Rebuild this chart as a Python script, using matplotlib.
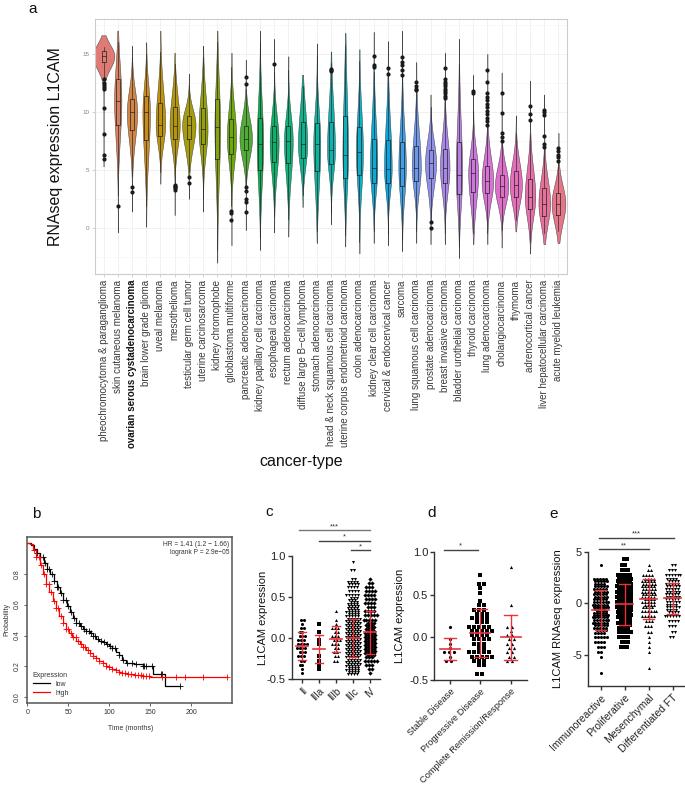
import numpy as np
import matplotlib
matplotlib.use('Agg')
import matplotlib.pyplot as plt

plt.rcParams['font.family'] = ['Liberation Sans', 'DejaVu Sans']
plt.rcParams['axes.unicode_minus'] = False

# ---------------- panel a data ----------------
cancer_types = [
    "pheochromocytoma & paraganglioma", "skin cutaneous melanoma",
    "ovarian serous cystadenocarcinoma", "brain lower grade glioma", "uveal melanoma",
    "mesothelioma", "testicular germ cell tumor", "uterine carcinosarcoma",
    "kidney chromophobe", "glioblastoma multiforme", "pancreatic adenocarcinoma",
    "kidney papillary cell carcinoma", "esophageal carcinoma", "rectum adenocarcinoma",
    "diffuse large B\u2212cell lymphoma", "stomach adenocarcinoma",
    "head & neck squamous cell carcinoma", "uterine corpus endometrioid carcinoma",
    "colon adenocarcinoma", "kidney clear cell carcinoma", "cervical & endocervical cancer",
    "sarcoma", "lung squamous cell carcinoma", "prostate adenocarcinoma",
    "breast invasive carcinoma", "bladder urothelial carcinoma", "thyroid carcinoma",
    "lung adenocarcinoma", "cholangiocarcinoma", "thymoma", "adrenocortical cancer",
    "liver hepatocellular carcinoma", "acute myeloid leukemia"]
violin_top = [16.6, 17.0, 15.7, 16.0, 17.0, 15.1, 13.3, 15.7, 17.0, 15.1, 14.5, 17.0, 16.3,
              14.8, 13.2, 15.9, 15.2, 16.8, 15.4, 16.9, 16.1, 17.0, 14.3, 11.5, 15.1, 16.3,
              13.2, 15.0, 13.4, 9.7, 12.7, 11.5, 8.2]
violin_bottom = [5.3, -0.4, 1.4, 0.1, 3.8, 1.1, 2.5, 1.4, -3.0, -1.5, -0.2, -1.9, -0.4, -0.75,
                 1.8, -1.3, 0.3, -1.6, -2.2, -1.3, -1.5, -2.0, -1.3, -1.4, -1.4, -2.6, -1.4,
                 -1.4, -1.7, -0.3, -2.2, -1.4, -1.3]
q1 = [14.3, 8.85, 8.45, 7.6, 7.9, 7.7, 7.7, 7.2, 5.9, 6.4, 6.7, 5.0, 5.7, 5.6, 6.0, 4.9, 5.5,
      4.3, 4.6, 3.85, 3.9, 3.6, 4.0, 4.3, 3.9, 2.9, 3.1, 3.0, 2.7, 2.7, 1.6, 1.06, 1.1]
median = [14.8, 10.95, 9.97, 9.97, 8.9, 8.8, 8.9, 8.5, 8.7, 7.8, 7.7, 7.2, 7.4, 7.5, 7.2, 7.2,
          6.7, 6.3, 6.5, 5.2, 5.1, 5.2, 5.2, 5.6, 5.2, 4.6, 4.7, 4.0, 3.6, 3.7, 2.7, 2.1, 2.1]
q3 = [15.2, 12.85, 11.1, 11.4, 10.8, 10.4, 9.6, 10.3, 11.1, 9.4, 8.8, 9.5, 8.8, 8.8, 9.1, 9.0,
      9.1, 9.6, 8.7, 7.7, 7.6, 7.4, 7.1, 6.75, 6.8, 7.4, 5.9, 5.3, 4.6, 4.9, 4.2, 3.4, 3.0]
outliers = [
    [12.8, 12.5, 12.3, 12.1, 12.0, 10.3, 8.1, 6.3, 5.9], [1.9], [3.56, 3.13], [], [],
    [3.7, 3.6, 3.5, 3.4, 3.3], [4.37, 3.85], [], [], [1.5, 1.3, 0.7],
    [13.0, 12.4, 3.5, 3.2, 2.5, 2.2, 1.4], [], [14.1], [], [], [], [13.7, 13.6, 13.5], [], [],
    [14.8, 14.0, 13.85], [13.8, 13.3], [14.7, 14.3, 14.0, 13.6, 13.2], [12.6, 12.2, 12.0, 11.9],
    [0.55, 0.0], [13.8, 12.8, 12.6, 12.4, 12.2, 12.0, 11.8, 11.6, 11.4, 11.2], [],
    [11.8, 11.6], [13.6, 12.6, 11.6, 11.3, 11.0, 10.7, 10.4, 10.1, 9.8, 9.5, 9.2, 8.9],
    [11.6, 9.9, 8.2, 7.8, 7.5], [], [10.5, 9.8, 9.3], [10.2, 10.0, 9.7, 7.9, 7.2, 7.0],
    [6.9, 6.6, 6.3, 6.1, 5.8]]

# ---------------- panel b data ----------------
low_time = [0, 4, 8, 12, 16, 20, 24, 28, 32, 36, 40, 44, 48, 52, 56, 60, 64, 68, 72, 76, 80, 84,
            88, 92, 96, 100, 104, 108, 112, 116, 120, 130, 141, 154, 168, 186]
low_surv = [1.0, 0.985, 0.96, 0.935, 0.91, 0.87, 0.83, 0.795, 0.755, 0.715, 0.675, 0.63, 0.59,
            0.55, 0.515, 0.48, 0.46, 0.44, 0.43, 0.415, 0.40, 0.375, 0.365, 0.356, 0.348, 0.335,
            0.32, 0.295, 0.275, 0.245, 0.225, 0.215, 0.205, 0.15, 0.073, 0.073]
high_time = [0, 3, 7, 11, 15, 19, 23, 27, 31, 35, 39, 43, 47, 51, 55, 60, 64, 68, 72, 76, 80, 84,
             88, 92, 96, 100, 104, 108, 112, 116, 122, 130, 140, 150, 160, 244]
high_surv = [1.0, 0.99, 0.955, 0.905, 0.855, 0.795, 0.735, 0.68, 0.625, 0.575, 0.525, 0.48, 0.445,
             0.415, 0.39, 0.362, 0.344, 0.326, 0.307, 0.287, 0.27, 0.254, 0.238, 0.222, 0.205,
             0.196, 0.185, 0.177, 0.165, 0.155, 0.15, 0.145, 0.14, 0.135, 0.13, 0.13]
low_censor = [12, 16, 19, 22, 24, 27, 30, 33, 36, 38, 41, 44, 47, 50, 53, 57, 60, 63, 66, 69, 72,
              75, 78, 80, 83, 86, 90, 94, 97, 101, 104, 107, 112, 117, 122, 128, 133, 141, 143,
              145, 152, 163, 165, 186]
high_censor = [8, 11, 14, 17, 20, 23, 26, 29, 32, 35, 38, 41, 44, 47, 50, 53, 56, 59, 62, 65, 68,
               71, 74, 77, 80, 84, 88, 92, 96, 100, 104, 108, 112, 116, 119, 123, 127, 131, 135,
               139, 141, 145, 149, 165, 182, 192, 214, 244]

# ---------------- panel c data (counts per 0.05 bin from -0.45) ----------------
c_groups = ["II", "IIIa", "IIIb", "IIIc", "IV"]
c_counts = [
    [1, 1, 2, 2, 3, 3, 4, 4, 3, 3, 2, 2, 1, 2],
    [0, 1, 1, 1, 1, 0, 0, 1, 1, 0, 1, 0, 1],
    [0, 0, 0, 2, 2, 2, 2, 3, 3, 3, 2, 3, 1, 1, 0, 1],
    [8, 9, 10, 10, 10, 10, 10, 10, 10, 10, 10, 10, 10, 10, 9, 9, 8, 7, 6, 5, 4, 4, 8, 2, 0, 2, 0, 1],
    [1, 2, 3, 5, 6, 8, 8, 8, 8, 8, 7, 6, 6, 5, 5, 4, 3, 4, 4, 4, 4, 3, 2, 1]]
c_mean = [-0.10, -0.134, -0.016, 0.004, 0.07]
c_sd = [0.17, 0.175, 0.16, 0.23, 0.26]

# ---------------- panel d data ----------------
d_groups = ["Stable Disease", "Progressive Disease", "Complete Remission/Response"]
d_counts = [
    [0, 0, 0, 2, 1, 3, 1, 1, 1, 0, 0, 1],
    [2, 0, 2, 3, 5, 5, 2, 3, 4, 4, 5, 5, 3, 4, 3, 3, 2, 1, 0, 1, 1, 2, 0, 1],
    [0, 0, 0, 2, 2, 2, 2, 2, 2, 2, 1, 2, 0, 0, 0, 0, 1, 0, 0, 0, 0, 0, 0, 0, 0, 1]]
d_mean = [-0.14, 0.05, 0.0]
d_sd = [0.128, 0.28, 0.265]

# ---------------- panel e data (counts per 0.5 bin from -7) ----------------
e_groups = ["Immunoreactive", "Proliferative", "Mesenchymal", "Differentiated FT"]
e_counts = [
    [1, 0, 0, 1, 2, 3, 4, 5, 8, 10, 12, 12, 13, 12, 11, 10, 10, 9, 10, 0, 0, 1],
    [0, 0, 0, 0, 0, 3, 3, 4, 5, 8, 9, 10, 10, 11, 11, 11, 11, 11, 10, 5, 3, 2, 2],
    [0, 1, 0, 0, 1, 1, 1, 1, 2, 3, 3, 5, 6, 8, 9, 10, 10, 10, 9, 4, 2, 1],
    [0, 0, 0, 0, 0, 0, 0, 2, 2, 3, 4, 6, 8, 9, 10, 10, 10, 10, 8, 6, 3, 2]]
e_mean = [-0.65, -0.1, 0.45, 0.48]
e_sd = [1.95, 1.97, 1.95, 1.52]

# ---------------- helpers ----------------
W, H = 685, 785


def rect(x0, y0, x1, y1):
    return [x0 / W, 1 - y1 / H, (x1 - x0) / W, (y1 - y0) / H]


def hcl(h, c=100.0, l=65.0):
    hr = np.deg2rad(h)
    u, v = c * np.cos(hr), c * np.sin(hr)
    Xn, Yn, Zn = 95.047, 100.0, 108.883
    den = Xn + 15 * Yn + 3 * Zn
    un, vn = 4 * Xn / den, 9 * Yn / den
    Y = Yn * ((l + 16) / 116) ** 3
    up, vp = u / (13 * l) + un, v / (13 * l) + vn
    X = Y * 9 * up / (4 * vp)
    Z = Y * (12 - 3 * up - 20 * vp) / (4 * vp)
    X, Y, Z = X / 100, Y / 100, Z / 100
    r = 3.240479 * X - 1.537150 * Y - 0.498535 * Z
    g = -0.969256 * X + 1.875992 * Y + 0.041556 * Z
    b = 0.055648 * X - 0.204043 * Y + 1.057311 * Z

    def gam(t):
        t = min(max(t, 0.0), 1.0)
        return 1.055 * t ** (1 / 2.4) - 0.055 if t > 0.0031308 else 12.92 * t
    return (gam(r), gam(g), gam(b))


fig = plt.figure(figsize=(W / 100, H / 100), dpi=100)
fig.patch.set_facecolor('white')

# ================= panel a =================
axa = fig.add_axes(rect(95, 19, 567, 274))
n = len(cancer_types)
hues = np.linspace(15, 375, n + 1)[:n]
colors = [hcl(h, c=80, l=61) for h in hues]

profiles = []
for i in range(n):
    y = np.linspace(violin_bottom[i], violin_top[i], 400)
    s1 = np.hypot((median[i] - q1[i]) / 0.674, 0.8)
    s2 = np.hypot((q3[i] - median[i]) / 0.674, 0.8)
    f = np.where(y < median[i], np.exp(-0.5 * ((y - median[i]) / s1) ** 2),
                 np.exp(-0.5 * ((y - median[i]) / s2) ** 2))
    f = f / np.trapezoid(f, y)
    profiles.append((y, f))
scale = 0.76 / max(p[1].max() for p in profiles)

for i in range(n):
    x = i + 1
    y, f = profiles[i]
    w = f * scale
    axa.fill_betweenx(y, x - w, x + w, facecolor=colors[i], edgecolor='#3a3a3a',
                      linewidth=0.35, alpha=0.95, zorder=2)
    iqr = q3[i] - q1[i]
    whi = min(q3[i] + 1.5 * iqr, violin_top[i] - 1.0)
    wlo = max(q1[i] - 1.5 * iqr, violin_bottom[i] + 1.0)
    bw = 0.14
    axa.plot([x - bw, x + bw, x + bw, x - bw, x - bw], [q1[i], q1[i], q3[i], q3[i], q1[i]],
             color='#222222', lw=0.5, zorder=3)
    axa.plot([x - bw, x + bw], [median[i], median[i]], color='#222222', lw=0.5, zorder=3)
    axa.plot([x, x], [q3[i], whi], color='#222222', lw=0.45, zorder=3)
    axa.plot([x, x], [wlo, q1[i]], color='#222222', lw=0.45, zorder=3)
    if outliers[i]:
        axa.plot([x] * len(outliers[i]), outliers[i], ls='none', marker='o', ms=2.0,
                 color='#1a1a1a', zorder=4)

axa.set_xlim(0.4, n + 0.6)
axa.set_ylim(-3.97, 18.0)
axa.set_yticks([0, 5, 10, 15])
axa.set_yticks([-2.5, 2.5, 7.5, 12.5, 17.5], minor=True)
axa.set_xticks(np.arange(1, n + 1))
axa.set_xticklabels(cancer_types, rotation=90, ha='center', va='top', fontsize=7,
                    color='#3a3a3a')
for lab in axa.get_xticklabels():
    if lab.get_text().startswith('ovarian'):
        lab.set_fontweight('bold')
        lab.set_color('#111111')
axa.tick_params(axis='y', labelsize=4.5, labelcolor='#808080', length=2, width=0.4,
                color='#b0b0b0', pad=2)
axa.tick_params(axis='y', which='minor', length=0)
axa.tick_params(axis='x', length=2, width=0.4, color='#b0b0b0', pad=2)
axa.grid(True, which='major', color='#ececec', lw=0.5, zorder=0)
axa.grid(True, which='minor', axis='y', color='#f4f4f4', lw=0.4, zorder=0)
axa.set_axisbelow(True)
for sp in axa.spines.values():
    sp.set_color('#cccccc')
    sp.set_linewidth(0.8)
axa.set_ylabel('RNAseq expression L1CAM', fontsize=11.5, color='#111111')
axa.yaxis.set_label_coords((63.3 - 95) / 472, 0.5)
axa.text((301 - 95) / 472, -(461.7 - 274) / 255, 'cancer-type', transform=axa.transAxes,
         ha='center', va='center', fontsize=11.5, color='#111111')

# ================= panel b =================
axb = fig.add_axes(rect(27.3, 537, 232, 703))


def step_value(times, surv, t):
    idx = np.searchsorted(times, t, side='right') - 1
    return np.asarray(surv)[idx]


for times, surv, cens, col, lab in [(low_time, low_surv, low_censor, 'black', 'low'),
                                    (high_time, high_surv, high_censor, '#ff0000', 'high')]:
    axb.plot(times, surv, drawstyle='steps-post', color=col, lw=0.9, label=lab)
    axb.plot(cens, step_value(times, surv, cens), ls='none', marker='+', ms=4, mew=0.6,
             color=col)
axb.set_xlim(0, 250)
axb.set_ylim(-0.036, 1.037)
axb.set_xticks([0, 50, 100, 150, 200])
axb.set_yticks([0.0, 0.2, 0.4, 0.6, 0.8])
axb.set_yticklabels(['0.0', '0.2', '0.4', '0.6', '0.8'], rotation=90, va='center')
axb.tick_params(labelsize=5, length=2.5, width=0.6, color='#444444', pad=2,
                labelcolor='#333333')
for sp in axb.spines.values():
    sp.set_color('#555555')
    sp.set_linewidth(1.1)
axb.text((6.5 - 27.3) / 204.7, 0.5, 'Probability', transform=axb.transAxes, rotation=90,
         ha='center', va='center', fontsize=5, color='#333333')
axb.text(0.505, -(729 - 703) / 166, 'Time (months)', transform=axb.transAxes, ha='center',
         va='center', fontsize=5, color='#333333')
axb.text(0.987, 0.955, 'HR = 1.41 (1.2 \u2212 1.66)', transform=axb.transAxes, ha='right',
         va='center', fontsize=4.8, color='#333333')
axb.text(0.987, 0.908, 'logrank P = 2.9e\u221205', transform=axb.transAxes, ha='right',
         va='center', fontsize=4.8, color='#333333')
leg = axb.legend(title='Expression', loc='lower left', bbox_to_anchor=(0.0, 0.005),
                 frameon=False, fontsize=5, title_fontsize=5, handlelength=2.4,
                 labelspacing=0.25, handletextpad=0.8, borderpad=0.3, alignment='left')
for t in leg.get_texts():
    t.set_color('#333333')
leg.get_title().set_color('#333333')

# ================= dot panels =================
RED = '#e8333c'


def dot_panel(ax, counts, bin_start, bin_w, markers, per_row, dx, ms, means, sds,
              mean_w, cap_w):
    for i, cnt in enumerate(counts):
        xs, ys = [], []
        row_no = 0
        for j, k in enumerate(cnt):
            if k == 0:
                continue
            nrows = int(np.ceil(k / per_row))
            base, extra = divmod(k, nrows)
            for r in range(nrows):
                kk = base + (1 if r < extra else 0)
                yy = bin_start + j * bin_w + (r + 0.5) * bin_w / nrows
                shift = 0.25 * dx if row_no % 2 else -0.25 * dx
                off = (np.arange(kk) - (kk - 1) / 2) * dx + (shift if kk > 1 else 0)
                xs.extend(i + off)
                ys.extend([yy] * kk)
                row_no += 1
        ax.plot(xs, ys, ls='none', marker=markers[i], ms=ms, color='black', mew=0,
                zorder=2, clip_on=False)
        m, s = means[i], sds[i]
        ax.plot([i - mean_w / 2, i + mean_w / 2], [m, m], color=RED, lw=1.2, zorder=3)
        ax.plot([i, i], [m - s, m + s], color=RED, lw=1.0, zorder=3)
        for yy in (m - s, m + s):
            ax.plot([i - cap_w / 2, i + cap_w / 2], [yy, yy], color=RED, lw=1.0, zorder=3)


def style_dot_axes(ax, labels, fs_x):
    for sp in ['top', 'right']:
        ax.spines[sp].set_visible(False)
    for sp in ['left', 'bottom']:
        ax.spines[sp].set_color('#333333')
        ax.spines[sp].set_linewidth(1.0)
    ax.set_xticks(np.arange(len(labels)))
    ax.set_xticklabels(labels, rotation=45, ha='right', rotation_mode='anchor',
                       fontsize=fs_x, color='#222222')
    ax.tick_params(axis='both', length=3, width=1.0, color='#333333')
    ax.tick_params(axis='y', labelsize=8, pad=1.5, labelcolor='#222222')
    ax.tick_params(axis='x', pad=2)


def sig_line(ax, x0, x1, y, star, fs=5.5, col='#555555'):
    ax.plot([x0, x1], [y, y], color=col, lw=1.0, clip_on=False)
    ax.text((x0 + x1) / 2, y, star, ha='center', va='bottom', fontsize=fs, color='#333333',
            clip_on=False)


# ---- c ----
axc = fig.add_axes(rect(291.7, 556, 380, 679))
dot_panel(axc, c_counts, -0.45, 0.05, ['o', 's', '^', 'v', 'D'], 5, 0.17, 2.2, c_mean, c_sd,
          0.72, 0.45)
axc.set_xlim(-0.585, 4.58)
axc.set_ylim(-0.5, 1.0)
axc.set_yticks([-0.5, 0.0, 0.5, 1.0])
axc.set_yticklabels(['-0.5', '0.0', '0.5', '1.0'])
style_dot_axes(axc, c_groups, 7)
axc.set_ylabel('L1CAM expression', fontsize=8, color='#111111')
axc.yaxis.set_label_coords((267.7 - 291.7) / 88.3, 0.5)
sig_line(axc, -0.16, 4.0, 1.317, '***', col='#777777')
sig_line(axc, 1.03, 4.0, 1.187, '*', col='#444444')
sig_line(axc, 2.9, 4.0, 1.073, '*', col='#444444')

# ---- d ----
axd = fig.add_axes(rect(434.3, 552, 526.7, 680))
dot_panel(axd, d_counts, -0.45, 0.05, ['o', 's', '^'], 6, 0.165, 2.3, d_mean, d_sd,
          0.66, 0.42)
axd.set_xlim(-0.517, 2.53)
axd.set_ylim(-0.5, 1.0)
axd.set_yticks([-0.5, 0.0, 0.5, 1.0])
axd.set_yticklabels(['-0.5', '0.0', '0.5', '1.0'])
style_dot_axes(axd, d_groups, 6.7)
axd.set_ylabel('L1CAM expression', fontsize=8, color='#111111')
axd.yaxis.set_label_coords((405 - 434.3) / 92.4, 0.5)
sig_line(axd, -0.2, 0.91, 1.025, '*', col='#444444')

# ---- e ----
axe = fig.add_axes(rect(588.3, 551.7, 685, 685.7))
dot_panel(axe, e_counts, -7.0, 0.5, ['o', 's', '^', 'v'], 6, 0.12, 2.2, e_mean, e_sd,
          0.72, 0.46)
axe.set_xlim(-0.51, 3.52)
axe.set_ylim(-8, 5)
axe.set_yticks([-5, 0, 5])
style_dot_axes(axe, e_groups, 7.5)
axe.set_ylabel('L1CAM RNAseq expression', fontsize=8, color='#111111')
axe.yaxis.set_label_coords((563 - 588.3) / 96.7, 0.5)
sig_line(axe, -0.05, 3.06, 6.36, '***', col='#444444')
sig_line(axe, -0.05, 2.0, 5.26, '**', col='#444444')

# ---- panel letters ----
for letter, (px, py) in {'a': (33, 9), 'b': (36, 514), 'c': (269, 512), 'd': (432, 513),
                         'e': (554, 514)}.items():
    fig.text(px / W, 1 - py / H, letter, ha='center', va='center', fontsize=11,
             color='#111111')

fig.savefig('out.png', dpi=100, facecolor='white')
